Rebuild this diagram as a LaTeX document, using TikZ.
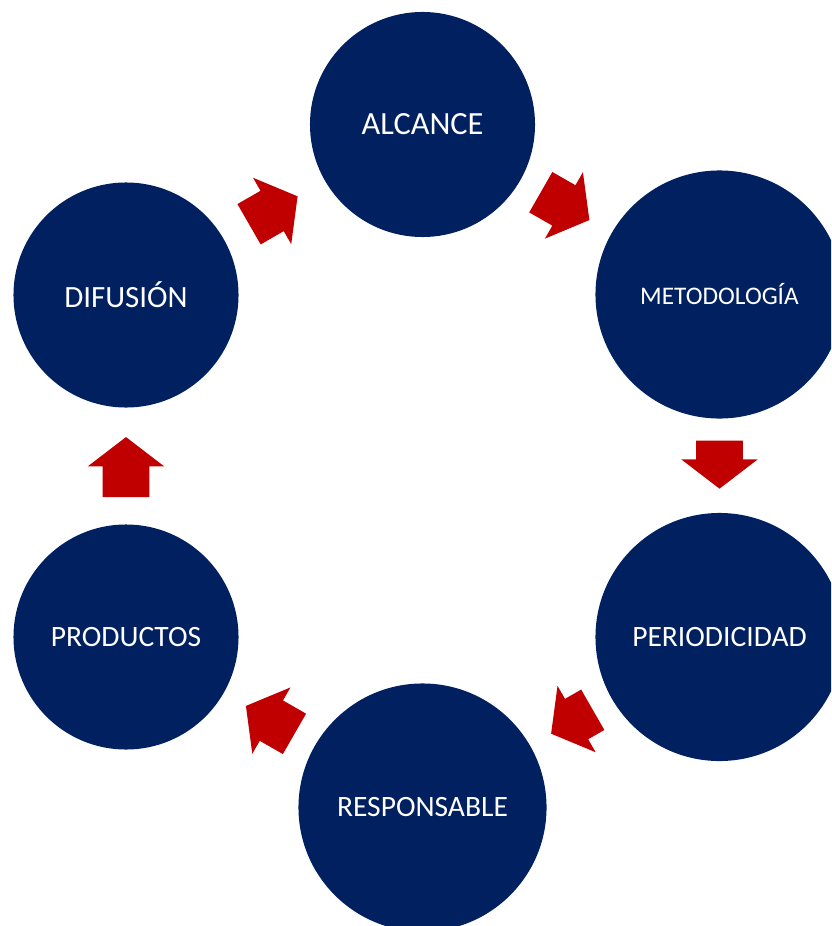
\documentclass[tikz,border=0pt]{standalone}
\usepackage{fontspec}
\setmainfont{Carlito}
\usetikzlibrary{shapes.arrows}
\definecolor{azul}{HTML}{002060}
\definecolor{rojo}{HTML}{C00000}

\begin{document}
\begin{tikzpicture}[
  x=0.025cm,y=-0.025cm,
  etapa/.style={circle,fill=azul,text=white,inner sep=0pt,minimum size=5.625cm,font=\fontsize{21}{24}\selectfont},
  grande/.style={minimum size=6.2cm},
  flecha/.style={single arrow,fill=rojo,draw=none,inner xsep=0pt,inner ysep=0.575cm,minimum height=1.4cm,
    single arrow head extend=0.375cm,single arrow tip angle=105,sloped,allow upside down,xshift=-0.25cm}
]
  \useasboundingbox (0,0) rectangle (831,926);
  \clip (0,0) rectangle (831,926);

  \node[etapa,font=\fontsize{23}{26}\selectfont] (alcance) at (422.5,124.5) {ALCANCE};
  \node[etapa,grande,font=\fontsize{18}{21}\selectfont] (metodologia) at (719.5,294.5) {METODOLOGÍA};
  \node[etapa,grande] (periodicidad) at (719.5,637) {PERIODICIDAD};
  \node[etapa,grande] (responsable) at (422.5,807.5) {RESPONSABLE};
  \node[etapa] (productos) at (126,637) {PRODUCTOS};
  \node[etapa,font=\fontsize{22}{25}\selectfont] (difusion) at (126,295) {DIFUSIÓN};

  \path (difusion) -- node[flecha]{} (alcance);
  \path (alcance) -- node[flecha]{} (metodologia);
  \path (metodologia) -- node[flecha,minimum height=1.2cm]{} (periodicidad);
  \path (periodicidad) -- node[flecha,minimum height=1.2cm]{} (responsable);
  \path (responsable) -- node[flecha]{} (productos);
  \path (productos) -- node[flecha,minimum height=1.5cm]{} (difusion);
\end{tikzpicture}
\end{document}
